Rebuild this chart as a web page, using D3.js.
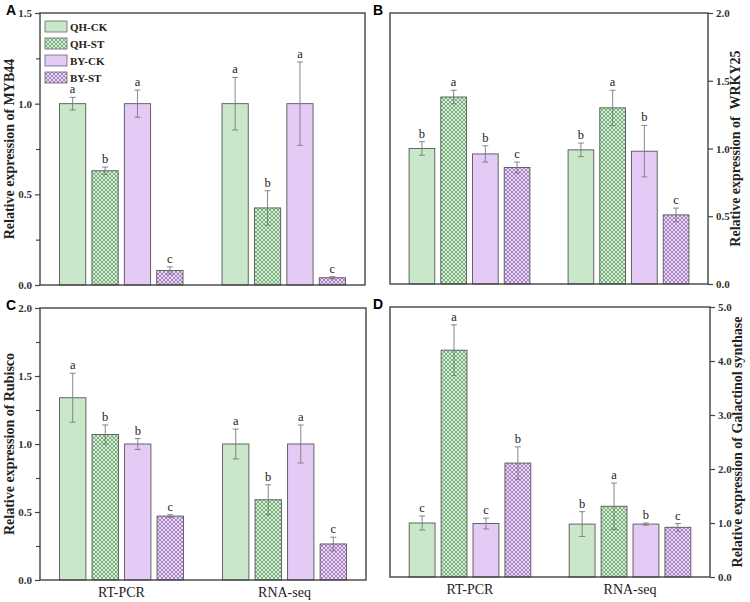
<!DOCTYPE html>
<html>
<head>
<meta charset="utf-8">
<script src="https://cdn.jsdelivr.net/npm/d3@7"></script>
<style>
  body { margin: 0; background: #fff; }
  svg { display: block; }
</style>
</head>
<body>
<svg id="chart" width="750" height="602"></svg>
<script>

// ---------- data ----------
const groups = ["RT-PCR", "RNA-seq"]
const treatments = ["QH-CK", "QH-ST", "BY-CK", "BY-ST"]

// A: MYB44
const myb44Mean = [[1.0, 0.63, 1.0, 0.08], [1.0, 0.425, 1.0, 0.04]]
const myb44Err = [[0.035, 0.02, 0.075, 0.02], [0.145, 0.095, 0.23, 0.006]]
const myb44Sig = [["a", "b", "a", "c"], ["a", "b", "a", "c"]]

// B: WRKY25
const wrky25Mean = [[1.0, 1.38, 0.96, 0.86], [0.99, 1.30, 0.98, 0.51]]
const wrky25Err = [[0.05, 0.05, 0.06, 0.04], [0.05, 0.13, 0.19, 0.05]]
const wrky25Sig = [["b", "a", "b", "c"], ["b", "a", "b", "c"]]

// C: Rubisco
const rubiscoMean = [[1.34, 1.07, 1.0, 0.47], [1.0, 0.59, 1.0, 0.265]]
const rubiscoErr = [[0.18, 0.07, 0.04, 0.01], [0.11, 0.11, 0.14, 0.05]]
const rubiscoSig = [["a", "b", "b", "c"], ["a", "b", "a", "c"]]

// D: Galactinol synthase
const galMean = [[1.0, 4.2, 0.99, 2.11], [0.98, 1.31, 0.98, 0.92]]
const galErr = [[0.13, 0.47, 0.1, 0.3], [0.23, 0.43, 0.02, 0.07]]
const galSig = [["c", "a", "c", "b"], ["b", "a", "b", "c"]]

// ---------- style ----------
const fills = {"QH-CK": "#c9e7c9", "QH-ST": "url(#hatchGreen)", "BY-CK": "#e4cbf6", "BY-ST": "url(#hatchPurple)"}
const serif = "'Liberation Serif', 'Times New Roman', serif"
const axisColor = "#444"

const svg = d3.select("#chart")
const defs = svg.append("defs")

function makeHatch(id, bg, line) {
  let p = defs.append("pattern")
    .attr("id", id)
    .attr("patternUnits", "userSpaceOnUse")
    .attr("width", 4).attr("height", 4)
  p.append("rect").attr("width", 4).attr("height", 4).attr("fill", bg)
  p.append("path")
    .attr("d", "M0,0 L4,4 M4,0 L0,4 M-1,3 L1,5 M3,-1 L5,1 M-1,1 L1,-1 M3,5 L5,3")
    .attr("stroke", line).attr("stroke-width", 0.8)
}
makeHatch("hatchGreen", "#d6eed6", "#659f6a")
makeHatch("hatchPurple", "#ead6f8", "#9570ad")

function drawPanel(cfg) {
  const {left, right, top, bottom, max, majorStep, minorStep, side, mean, err, sig, letter, title, xLabels, legend, fmt} = cfg

  let x0 = d3.scaleBand().domain(groups).range([left, right]).paddingInner(0.24).paddingOuter(0.12)
  let x1 = d3.scaleBand().domain(treatments).range([0, x0.bandwidth()]).paddingInner(0.19)
  let y = d3.scaleLinear().domain([0, max]).range([bottom, top])

  let g = svg.append("g")

  // bars
  groups.forEach(function(grp, gi) {
    treatments.forEach(function(t, ti) {
      let v = mean[gi][ti], e = err[gi][ti]
      let bx = x0(grp) + x1(t)
      let cx = bx + x1.bandwidth() / 2
      g.append("rect")
        .attr("x", bx).attr("y", y(v))
        .attr("width", x1.bandwidth()).attr("height", y(0) - y(v))
        .attr("fill", fills[t])
        .attr("stroke", "#555").attr("stroke-width", 0.9)
      // error bar
      let eb = g.append("g").attr("stroke", "#7a7a7a").attr("stroke-width", 0.9)
      eb.append("line").attr("x1", cx).attr("x2", cx).attr("y1", y(v + e)).attr("y2", y(Math.max(0, v - e)))
      eb.append("line").attr("x1", cx - 3).attr("x2", cx + 3).attr("y1", y(v + e)).attr("y2", y(v + e))
      eb.append("line").attr("x1", cx - 3).attr("x2", cx + 3).attr("y1", y(Math.max(0, v - e))).attr("y2", y(Math.max(0, v - e)))
      // significance letter
      g.append("text")
        .attr("x", cx).attr("y", y(v + e) - 4)
        .attr("text-anchor", "middle")
        .attr("font-family", serif).attr("font-size", 12.5)
        .attr("fill", "#222")
        .text(sig[gi][ti])
    })
  })

  // frame
  g.append("rect")
    .attr("x", left).attr("y", top)
    .attr("width", right - left).attr("height", bottom - top)
    .attr("fill", "none").attr("stroke", axisColor).attr("stroke-width", 1.4)

  // y axis
  let axisX = side == "left" ? left : right
  let mk = side == "left" ? d3.axisLeft : d3.axisRight
  let majors = d3.range(0, max + 1e-6, majorStep)
  let major = mk(y).tickValues(majors).tickFormat(fmt).tickSize(5).tickPadding(3)
  let ax = g.append("g").attr("transform", "translate(" + axisX + ",0)").call(major)
  ax.select(".domain").remove()
  ax.selectAll(".tick line").attr("stroke", axisColor).attr("stroke-width", 1.2)
  ax.selectAll("text")
    .attr("font-family", serif).attr("font-weight", "bold")
    .attr("font-size", 11).attr("fill", "#333")
  if (minorStep) {
    let minors = d3.range(0, max + 1e-6, minorStep).filter(d => Math.abs(d / majorStep - Math.round(d / majorStep)) > 1e-6)
    let minor = mk(y).tickValues(minors).tickFormat("").tickSize(4)
    let mx = g.append("g").attr("transform", "translate(" + axisX + ",0)").call(minor)
    mx.select(".domain").remove()
    mx.selectAll(".tick line").attr("stroke", axisColor).attr("stroke-width", 1.2)
  }

  // y title
  let tx = side == "left" ? left - 26 : right + 32
  g.append("text")
    .attr("transform", "translate(" + tx + "," + ((top + bottom) / 2) + ") rotate(-90)")
    .attr("text-anchor", "middle")
    .style("white-space", "pre")
    .attr("font-family", serif).attr("font-weight", "bold").attr("font-size", 14)
    .attr("fill", "#222")
    .text(title)

  // panel letter
  g.append("text")
    .attr("x", side == "left" ? left - 34 : left - 17).attr("y", top + 2)
    .attr("font-family", "'Liberation Sans', Arial, sans-serif").attr("font-weight", "bold").attr("font-size", 14)
    .text(letter)

  // x labels
  if (xLabels) {
    groups.forEach(function(grp) {
      g.append("text")
        .attr("x", x0(grp) + x0.bandwidth() / 2).attr("y", bottom + 17)
        .attr("text-anchor", "middle")
        .attr("font-family", serif).attr("font-size", 14).attr("fill", "#222")
        .text(grp)
    })
  }

  // legend
  if (legend) {
    treatments.forEach(function(t, i) {
      let ly = top + 8 + i * 17
      g.append("rect")
        .attr("x", left + 5).attr("y", ly)
        .attr("width", 22).attr("height", 11)
        .attr("fill", fills[t]).attr("stroke", "#666").attr("stroke-width", 0.8)
      g.append("text")
        .attr("x", left + 30).attr("y", ly + 9.5)
        .attr("font-family", serif).attr("font-weight", "bold").attr("font-size", 11)
        .attr("fill", "#222")
        .text(t)
    })
  }
}

const f1 = d3.format(".1f")

drawPanel({left: 40, right: 365, top: 13, bottom: 285, max: 1.5, majorStep: 0.5, minorStep: 0.25,
  side: "left", mean: myb44Mean, err: myb44Err, sig: myb44Sig, letter: "A",
  title: "Relative expression of MYB44", xLabels: false, legend: true, fmt: f1})

drawPanel({left: 390, right: 708, top: 13, bottom: 284, max: 2.0, majorStep: 0.5, minorStep: null,
  side: "right", mean: wrky25Mean, err: wrky25Err, sig: wrky25Sig, letter: "B",
  title: "Relative expression of  WRKY25", xLabels: false, legend: false, fmt: f1})

drawPanel({left: 40, right: 366, top: 308, bottom: 580, max: 2.0, majorStep: 0.5, minorStep: 0.25,
  side: "left", mean: rubiscoMean, err: rubiscoErr, sig: rubiscoSig, letter: "C",
  title: "Relative expression of Rubisco", xLabels: true, legend: false, fmt: f1})

drawPanel({left: 390, right: 710, top: 307, bottom: 577, max: 5.0, majorStep: 1.0, minorStep: null,
  side: "right", mean: galMean, err: galErr, sig: galSig, letter: "D",
  title: "Relative expression of Galactinol synthase", xLabels: true, legend: false, fmt: f1})

</script>
</body>
</html>
